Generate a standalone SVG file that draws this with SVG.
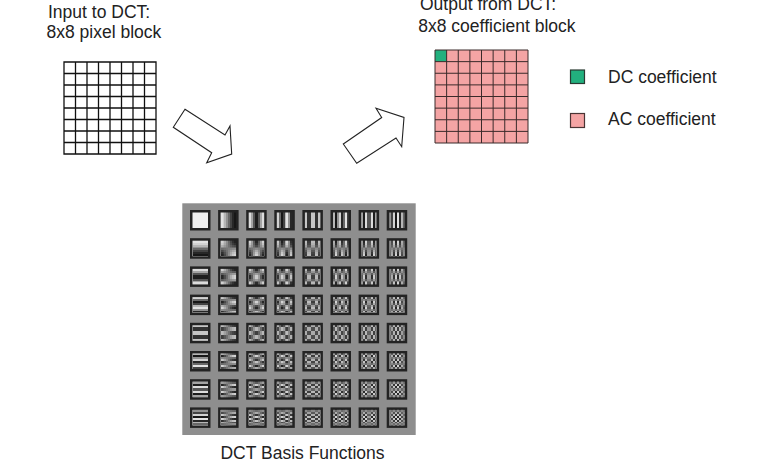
<svg xmlns="http://www.w3.org/2000/svg" width="772" height="474" viewBox="0 0 772 474">
<style>
text{font-family:"Liberation Sans",Arial,sans-serif;font-size:17.5px;fill:#222}
.arrow{fill:#fff;stroke:#222;stroke-width:1.1;stroke-linejoin:miter}
.grid{fill:none;stroke:#111;stroke-width:1.3}
.cgrid{fill:none;stroke:#3a2a2a;stroke-width:1}
.o{fill:#1c1c1c}
.b{mix-blend-mode:exclusion}
</style>
<defs>
<filter id="soft" x="-5%" y="-5%" width="110%" height="110%" color-interpolation-filters="sRGB"><feGaussianBlur stdDeviation="0.7"/><feComponentTransfer><feFuncR type="linear" slope=".9" intercept=".04"/><feFuncG type="linear" slope=".9" intercept=".04"/><feFuncB type="linear" slope=".9" intercept=".04"/></feComponentTransfer></filter>
<linearGradient id="h1"><stop offset="0" stop-color="#f0f0f0"/><stop offset=".125" stop-color="#f0f0f0"/><stop offset=".125" stop-color="#dfdfdf"/><stop offset=".25" stop-color="#dfdfdf"/><stop offset=".25" stop-color="#bfbfbf"/><stop offset=".375" stop-color="#bfbfbf"/><stop offset=".375" stop-color="#969696"/><stop offset=".5" stop-color="#969696"/><stop offset=".5" stop-color="#696969"/><stop offset=".625" stop-color="#696969"/><stop offset=".625" stop-color="#404040"/><stop offset=".75" stop-color="#404040"/><stop offset=".75" stop-color="#202020"/><stop offset=".875" stop-color="#202020"/><stop offset=".875" stop-color="#0f0f0f"/><stop offset="1" stop-color="#0f0f0f"/></linearGradient>
<linearGradient id="h2"><stop offset="0" stop-color="#eaeaea"/><stop offset=".125" stop-color="#eaeaea"/><stop offset=".125" stop-color="#ababab"/><stop offset=".25" stop-color="#ababab"/><stop offset=".25" stop-color="#545454"/><stop offset=".375" stop-color="#545454"/><stop offset=".375" stop-color="#151515"/><stop offset=".625" stop-color="#151515"/><stop offset=".625" stop-color="#545454"/><stop offset=".75" stop-color="#545454"/><stop offset=".75" stop-color="#ababab"/><stop offset=".875" stop-color="#ababab"/><stop offset=".875" stop-color="#eaeaea"/><stop offset="1" stop-color="#eaeaea"/></linearGradient>
<linearGradient id="h3"><stop offset="0" stop-color="#dfdfdf"/><stop offset=".125" stop-color="#dfdfdf"/><stop offset=".125" stop-color="#696969"/><stop offset=".25" stop-color="#696969"/><stop offset=".25" stop-color="#0f0f0f"/><stop offset=".375" stop-color="#0f0f0f"/><stop offset=".375" stop-color="#404040"/><stop offset=".5" stop-color="#404040"/><stop offset=".5" stop-color="#bfbfbf"/><stop offset=".625" stop-color="#bfbfbf"/><stop offset=".625" stop-color="#f0f0f0"/><stop offset=".75" stop-color="#f0f0f0"/><stop offset=".75" stop-color="#969696"/><stop offset=".875" stop-color="#969696"/><stop offset=".875" stop-color="#202020"/><stop offset="1" stop-color="#202020"/></linearGradient>
<linearGradient id="h4"><stop offset="0" stop-color="#d1d1d1"/><stop offset=".125" stop-color="#d1d1d1"/><stop offset=".125" stop-color="#2e2e2e"/><stop offset=".375" stop-color="#2e2e2e"/><stop offset=".375" stop-color="#d1d1d1"/><stop offset=".625" stop-color="#d1d1d1"/><stop offset=".625" stop-color="#2e2e2e"/><stop offset=".875" stop-color="#2e2e2e"/><stop offset=".875" stop-color="#d1d1d1"/><stop offset="1" stop-color="#d1d1d1"/></linearGradient>
<linearGradient id="h5"><stop offset="0" stop-color="#bfbfbf"/><stop offset=".125" stop-color="#bfbfbf"/><stop offset=".125" stop-color="#0f0f0f"/><stop offset=".25" stop-color="#0f0f0f"/><stop offset=".25" stop-color="#969696"/><stop offset=".375" stop-color="#969696"/><stop offset=".375" stop-color="#dfdfdf"/><stop offset=".5" stop-color="#dfdfdf"/><stop offset=".5" stop-color="#202020"/><stop offset=".625" stop-color="#202020"/><stop offset=".625" stop-color="#696969"/><stop offset=".75" stop-color="#696969"/><stop offset=".75" stop-color="#f0f0f0"/><stop offset=".875" stop-color="#f0f0f0"/><stop offset=".875" stop-color="#404040"/><stop offset="1" stop-color="#404040"/></linearGradient>
<linearGradient id="h6"><stop offset="0" stop-color="#ababab"/><stop offset=".125" stop-color="#ababab"/><stop offset=".125" stop-color="#151515"/><stop offset=".25" stop-color="#151515"/><stop offset=".25" stop-color="#eaeaea"/><stop offset=".375" stop-color="#eaeaea"/><stop offset=".375" stop-color="#545454"/><stop offset=".625" stop-color="#545454"/><stop offset=".625" stop-color="#eaeaea"/><stop offset=".75" stop-color="#eaeaea"/><stop offset=".75" stop-color="#151515"/><stop offset=".875" stop-color="#151515"/><stop offset=".875" stop-color="#ababab"/><stop offset="1" stop-color="#ababab"/></linearGradient>
<linearGradient id="h7"><stop offset="0" stop-color="#969696"/><stop offset=".125" stop-color="#969696"/><stop offset=".125" stop-color="#404040"/><stop offset=".25" stop-color="#404040"/><stop offset=".25" stop-color="#dfdfdf"/><stop offset=".375" stop-color="#dfdfdf"/><stop offset=".375" stop-color="#0f0f0f"/><stop offset=".5" stop-color="#0f0f0f"/><stop offset=".5" stop-color="#f0f0f0"/><stop offset=".625" stop-color="#f0f0f0"/><stop offset=".625" stop-color="#202020"/><stop offset=".75" stop-color="#202020"/><stop offset=".75" stop-color="#bfbfbf"/><stop offset=".875" stop-color="#bfbfbf"/><stop offset=".875" stop-color="#696969"/><stop offset="1" stop-color="#696969"/></linearGradient>
<linearGradient id="v1" x2="0" y2="1"><stop offset="0" stop-color="#0f0f0f"/><stop offset=".125" stop-color="#0f0f0f"/><stop offset=".125" stop-color="#202020"/><stop offset=".25" stop-color="#202020"/><stop offset=".25" stop-color="#404040"/><stop offset=".375" stop-color="#404040"/><stop offset=".375" stop-color="#696969"/><stop offset=".5" stop-color="#696969"/><stop offset=".5" stop-color="#969696"/><stop offset=".625" stop-color="#969696"/><stop offset=".625" stop-color="#bfbfbf"/><stop offset=".75" stop-color="#bfbfbf"/><stop offset=".75" stop-color="#dfdfdf"/><stop offset=".875" stop-color="#dfdfdf"/><stop offset=".875" stop-color="#f0f0f0"/><stop offset="1" stop-color="#f0f0f0"/></linearGradient>
<linearGradient id="v2" x2="0" y2="1"><stop offset="0" stop-color="#151515"/><stop offset=".125" stop-color="#151515"/><stop offset=".125" stop-color="#545454"/><stop offset=".25" stop-color="#545454"/><stop offset=".25" stop-color="#ababab"/><stop offset=".375" stop-color="#ababab"/><stop offset=".375" stop-color="#eaeaea"/><stop offset=".625" stop-color="#eaeaea"/><stop offset=".625" stop-color="#ababab"/><stop offset=".75" stop-color="#ababab"/><stop offset=".75" stop-color="#545454"/><stop offset=".875" stop-color="#545454"/><stop offset=".875" stop-color="#151515"/><stop offset="1" stop-color="#151515"/></linearGradient>
<linearGradient id="v3" x2="0" y2="1"><stop offset="0" stop-color="#202020"/><stop offset=".125" stop-color="#202020"/><stop offset=".125" stop-color="#969696"/><stop offset=".25" stop-color="#969696"/><stop offset=".25" stop-color="#f0f0f0"/><stop offset=".375" stop-color="#f0f0f0"/><stop offset=".375" stop-color="#bfbfbf"/><stop offset=".5" stop-color="#bfbfbf"/><stop offset=".5" stop-color="#404040"/><stop offset=".625" stop-color="#404040"/><stop offset=".625" stop-color="#0f0f0f"/><stop offset=".75" stop-color="#0f0f0f"/><stop offset=".75" stop-color="#696969"/><stop offset=".875" stop-color="#696969"/><stop offset=".875" stop-color="#dfdfdf"/><stop offset="1" stop-color="#dfdfdf"/></linearGradient>
<linearGradient id="v4" x2="0" y2="1"><stop offset="0" stop-color="#2e2e2e"/><stop offset=".125" stop-color="#2e2e2e"/><stop offset=".125" stop-color="#d1d1d1"/><stop offset=".375" stop-color="#d1d1d1"/><stop offset=".375" stop-color="#2e2e2e"/><stop offset=".625" stop-color="#2e2e2e"/><stop offset=".625" stop-color="#d1d1d1"/><stop offset=".875" stop-color="#d1d1d1"/><stop offset=".875" stop-color="#2e2e2e"/><stop offset="1" stop-color="#2e2e2e"/></linearGradient>
<linearGradient id="v5" x2="0" y2="1"><stop offset="0" stop-color="#404040"/><stop offset=".125" stop-color="#404040"/><stop offset=".125" stop-color="#f0f0f0"/><stop offset=".25" stop-color="#f0f0f0"/><stop offset=".25" stop-color="#696969"/><stop offset=".375" stop-color="#696969"/><stop offset=".375" stop-color="#202020"/><stop offset=".5" stop-color="#202020"/><stop offset=".5" stop-color="#dfdfdf"/><stop offset=".625" stop-color="#dfdfdf"/><stop offset=".625" stop-color="#969696"/><stop offset=".75" stop-color="#969696"/><stop offset=".75" stop-color="#0f0f0f"/><stop offset=".875" stop-color="#0f0f0f"/><stop offset=".875" stop-color="#bfbfbf"/><stop offset="1" stop-color="#bfbfbf"/></linearGradient>
<linearGradient id="v6" x2="0" y2="1"><stop offset="0" stop-color="#545454"/><stop offset=".125" stop-color="#545454"/><stop offset=".125" stop-color="#eaeaea"/><stop offset=".25" stop-color="#eaeaea"/><stop offset=".25" stop-color="#151515"/><stop offset=".375" stop-color="#151515"/><stop offset=".375" stop-color="#ababab"/><stop offset=".625" stop-color="#ababab"/><stop offset=".625" stop-color="#151515"/><stop offset=".75" stop-color="#151515"/><stop offset=".75" stop-color="#eaeaea"/><stop offset=".875" stop-color="#eaeaea"/><stop offset=".875" stop-color="#545454"/><stop offset="1" stop-color="#545454"/></linearGradient>
<linearGradient id="v7" x2="0" y2="1"><stop offset="0" stop-color="#696969"/><stop offset=".125" stop-color="#696969"/><stop offset=".125" stop-color="#bfbfbf"/><stop offset=".25" stop-color="#bfbfbf"/><stop offset=".25" stop-color="#202020"/><stop offset=".375" stop-color="#202020"/><stop offset=".375" stop-color="#f0f0f0"/><stop offset=".5" stop-color="#f0f0f0"/><stop offset=".5" stop-color="#0f0f0f"/><stop offset=".625" stop-color="#0f0f0f"/><stop offset=".625" stop-color="#dfdfdf"/><stop offset=".75" stop-color="#dfdfdf"/><stop offset=".75" stop-color="#404040"/><stop offset=".875" stop-color="#404040"/><stop offset=".875" stop-color="#969696"/><stop offset="1" stop-color="#969696"/></linearGradient>
<rect id="o" class="o" width="20.5" height="20.5"/>
<rect id="p" x="2.5" y="2.5" width="15.5" height="15.5"/>
</defs>
<rect width="772" height="474" fill="#fff"/>

<g id="input-block">
<text x="48" y="18.3">Input to DCT:</text>
<text x="46.5" y="38.3">8x8 pixel block</text>
<rect x="64" y="62" width="92" height="92" fill="#fff"/>
<path class="grid" d="M64 62H156V154H64Z M75.5 62V154 M87 62V154 M98.5 62V154 M110 62V154 M121.5 62V154 M133 62V154 M144.5 62V154 M64 73.5H156 M64 85H156 M64 96.5H156 M64 108H156 M64 119.5H156 M64 131H156 M64 142.5H156"/>
</g>

<g id="output-block">
<text x="420" y="10">Output from DCT:</text>
<text x="418.3" y="31.7">8x8 coefficient block</text>
<rect x="435" y="50" width="93" height="93" fill="#f4a4a4"/>
<rect x="435" y="50" width="11.625" height="11.625" fill="#22b07e"/>
<path class="cgrid" d="M435 50H528V143H435Z M446.625 50V143 M458.25 50V143 M469.875 50V143 M481.5 50V143 M493.125 50V143 M504.75 50V143 M516.375 50V143 M435 61.625H528 M435 73.25H528 M435 84.875H528 M435 96.5H528 M435 108.125H528 M435 119.75H528 M435 131.375H528"/>
</g>

<g id="legend">
<rect x="570.5" y="70" width="14" height="13.5" fill="#22b07e" stroke="#2a3a32" stroke-width="1.2"/>
<text x="608" y="82.7">DC coefficient</text>
<rect x="570.5" y="113.5" width="14" height="14" fill="#f4a4a4" stroke="#4a3434" stroke-width="1.2"/>
<text x="608" y="125">AC coefficient</text>
</g>

<g id="connectors">
<polygon class="arrow" points="185,109.3 225,135 230,126 231.7,154 206.7,162.7 211.7,152.7 173.3,127.3"/>
<polygon class="arrow" points="343.3,144 381.7,117.5 376,108.3 404,117.5 401.7,146.7 396,138 356.7,163.3"/>
</g>

<g id="dct-basis">
<rect x="182.3" y="203.3" width="233.4" height="231.7" fill="#8e8e8e"/>
<g filter="url(#soft)">
<g transform="translate(190,210)"><use href="#o"/><use href="#p" fill="#fff"/><use href="#p" class="b" fill="#000"/></g>
<g transform="translate(218.1,210)"><use href="#o"/><use href="#p" fill="url(#h1)"/><use href="#p" class="b" fill="#000"/></g>
<g transform="translate(246.2,210)"><use href="#o"/><use href="#p" fill="url(#h2)"/><use href="#p" class="b" fill="#000"/></g>
<g transform="translate(274.3,210)"><use href="#o"/><use href="#p" fill="url(#h3)"/><use href="#p" class="b" fill="#000"/></g>
<g transform="translate(302.4,210)"><use href="#o"/><use href="#p" fill="url(#h4)"/><use href="#p" class="b" fill="#000"/></g>
<g transform="translate(330.5,210)"><use href="#o"/><use href="#p" fill="url(#h5)"/><use href="#p" class="b" fill="#000"/></g>
<g transform="translate(358.6,210)"><use href="#o"/><use href="#p" fill="url(#h6)"/><use href="#p" class="b" fill="#000"/></g>
<g transform="translate(386.7,210)"><use href="#o"/><use href="#p" fill="url(#h7)"/><use href="#p" class="b" fill="#000"/></g>

<g transform="translate(190,238.2)"><use href="#o"/><use href="#p" fill="#fff"/><use href="#p" class="b" fill="url(#v1)"/></g>
<g transform="translate(218.1,238.2)"><use href="#o"/><use href="#p" fill="url(#h1)"/><use href="#p" class="b" fill="url(#v1)"/></g>
<g transform="translate(246.2,238.2)"><use href="#o"/><use href="#p" fill="url(#h2)"/><use href="#p" class="b" fill="url(#v1)"/></g>
<g transform="translate(274.3,238.2)"><use href="#o"/><use href="#p" fill="url(#h3)"/><use href="#p" class="b" fill="url(#v1)"/></g>
<g transform="translate(302.4,238.2)"><use href="#o"/><use href="#p" fill="url(#h4)"/><use href="#p" class="b" fill="url(#v1)"/></g>
<g transform="translate(330.5,238.2)"><use href="#o"/><use href="#p" fill="url(#h5)"/><use href="#p" class="b" fill="url(#v1)"/></g>
<g transform="translate(358.6,238.2)"><use href="#o"/><use href="#p" fill="url(#h6)"/><use href="#p" class="b" fill="url(#v1)"/></g>
<g transform="translate(386.7,238.2)"><use href="#o"/><use href="#p" fill="url(#h7)"/><use href="#p" class="b" fill="url(#v1)"/></g>

<g transform="translate(190,266.4)"><use href="#o"/><use href="#p" fill="#fff"/><use href="#p" class="b" fill="url(#v2)"/></g>
<g transform="translate(218.1,266.4)"><use href="#o"/><use href="#p" fill="url(#h1)"/><use href="#p" class="b" fill="url(#v2)"/></g>
<g transform="translate(246.2,266.4)"><use href="#o"/><use href="#p" fill="url(#h2)"/><use href="#p" class="b" fill="url(#v2)"/></g>
<g transform="translate(274.3,266.4)"><use href="#o"/><use href="#p" fill="url(#h3)"/><use href="#p" class="b" fill="url(#v2)"/></g>
<g transform="translate(302.4,266.4)"><use href="#o"/><use href="#p" fill="url(#h4)"/><use href="#p" class="b" fill="url(#v2)"/></g>
<g transform="translate(330.5,266.4)"><use href="#o"/><use href="#p" fill="url(#h5)"/><use href="#p" class="b" fill="url(#v2)"/></g>
<g transform="translate(358.6,266.4)"><use href="#o"/><use href="#p" fill="url(#h6)"/><use href="#p" class="b" fill="url(#v2)"/></g>
<g transform="translate(386.7,266.4)"><use href="#o"/><use href="#p" fill="url(#h7)"/><use href="#p" class="b" fill="url(#v2)"/></g>

<g transform="translate(190,294.6)"><use href="#o"/><use href="#p" fill="#fff"/><use href="#p" class="b" fill="url(#v3)"/></g>
<g transform="translate(218.1,294.6)"><use href="#o"/><use href="#p" fill="url(#h1)"/><use href="#p" class="b" fill="url(#v3)"/></g>
<g transform="translate(246.2,294.6)"><use href="#o"/><use href="#p" fill="url(#h2)"/><use href="#p" class="b" fill="url(#v3)"/></g>
<g transform="translate(274.3,294.6)"><use href="#o"/><use href="#p" fill="url(#h3)"/><use href="#p" class="b" fill="url(#v3)"/></g>
<g transform="translate(302.4,294.6)"><use href="#o"/><use href="#p" fill="url(#h4)"/><use href="#p" class="b" fill="url(#v3)"/></g>
<g transform="translate(330.5,294.6)"><use href="#o"/><use href="#p" fill="url(#h5)"/><use href="#p" class="b" fill="url(#v3)"/></g>
<g transform="translate(358.6,294.6)"><use href="#o"/><use href="#p" fill="url(#h6)"/><use href="#p" class="b" fill="url(#v3)"/></g>
<g transform="translate(386.7,294.6)"><use href="#o"/><use href="#p" fill="url(#h7)"/><use href="#p" class="b" fill="url(#v3)"/></g>

<g transform="translate(190,322.8)"><use href="#o"/><use href="#p" fill="#fff"/><use href="#p" class="b" fill="url(#v4)"/></g>
<g transform="translate(218.1,322.8)"><use href="#o"/><use href="#p" fill="url(#h1)"/><use href="#p" class="b" fill="url(#v4)"/></g>
<g transform="translate(246.2,322.8)"><use href="#o"/><use href="#p" fill="url(#h2)"/><use href="#p" class="b" fill="url(#v4)"/></g>
<g transform="translate(274.3,322.8)"><use href="#o"/><use href="#p" fill="url(#h3)"/><use href="#p" class="b" fill="url(#v4)"/></g>
<g transform="translate(302.4,322.8)"><use href="#o"/><use href="#p" fill="url(#h4)"/><use href="#p" class="b" fill="url(#v4)"/></g>
<g transform="translate(330.5,322.8)"><use href="#o"/><use href="#p" fill="url(#h5)"/><use href="#p" class="b" fill="url(#v4)"/></g>
<g transform="translate(358.6,322.8)"><use href="#o"/><use href="#p" fill="url(#h6)"/><use href="#p" class="b" fill="url(#v4)"/></g>
<g transform="translate(386.7,322.8)"><use href="#o"/><use href="#p" fill="url(#h7)"/><use href="#p" class="b" fill="url(#v4)"/></g>

<g transform="translate(190,351)"><use href="#o"/><use href="#p" fill="#fff"/><use href="#p" class="b" fill="url(#v5)"/></g>
<g transform="translate(218.1,351)"><use href="#o"/><use href="#p" fill="url(#h1)"/><use href="#p" class="b" fill="url(#v5)"/></g>
<g transform="translate(246.2,351)"><use href="#o"/><use href="#p" fill="url(#h2)"/><use href="#p" class="b" fill="url(#v5)"/></g>
<g transform="translate(274.3,351)"><use href="#o"/><use href="#p" fill="url(#h3)"/><use href="#p" class="b" fill="url(#v5)"/></g>
<g transform="translate(302.4,351)"><use href="#o"/><use href="#p" fill="url(#h4)"/><use href="#p" class="b" fill="url(#v5)"/></g>
<g transform="translate(330.5,351)"><use href="#o"/><use href="#p" fill="url(#h5)"/><use href="#p" class="b" fill="url(#v5)"/></g>
<g transform="translate(358.6,351)"><use href="#o"/><use href="#p" fill="url(#h6)"/><use href="#p" class="b" fill="url(#v5)"/></g>
<g transform="translate(386.7,351)"><use href="#o"/><use href="#p" fill="url(#h7)"/><use href="#p" class="b" fill="url(#v5)"/></g>

<g transform="translate(190,379.2)"><use href="#o"/><use href="#p" fill="#fff"/><use href="#p" class="b" fill="url(#v6)"/></g>
<g transform="translate(218.1,379.2)"><use href="#o"/><use href="#p" fill="url(#h1)"/><use href="#p" class="b" fill="url(#v6)"/></g>
<g transform="translate(246.2,379.2)"><use href="#o"/><use href="#p" fill="url(#h2)"/><use href="#p" class="b" fill="url(#v6)"/></g>
<g transform="translate(274.3,379.2)"><use href="#o"/><use href="#p" fill="url(#h3)"/><use href="#p" class="b" fill="url(#v6)"/></g>
<g transform="translate(302.4,379.2)"><use href="#o"/><use href="#p" fill="url(#h4)"/><use href="#p" class="b" fill="url(#v6)"/></g>
<g transform="translate(330.5,379.2)"><use href="#o"/><use href="#p" fill="url(#h5)"/><use href="#p" class="b" fill="url(#v6)"/></g>
<g transform="translate(358.6,379.2)"><use href="#o"/><use href="#p" fill="url(#h6)"/><use href="#p" class="b" fill="url(#v6)"/></g>
<g transform="translate(386.7,379.2)"><use href="#o"/><use href="#p" fill="url(#h7)"/><use href="#p" class="b" fill="url(#v6)"/></g>

<g transform="translate(190,407.4)"><use href="#o"/><use href="#p" fill="#fff"/><use href="#p" class="b" fill="url(#v7)"/></g>
<g transform="translate(218.1,407.4)"><use href="#o"/><use href="#p" fill="url(#h1)"/><use href="#p" class="b" fill="url(#v7)"/></g>
<g transform="translate(246.2,407.4)"><use href="#o"/><use href="#p" fill="url(#h2)"/><use href="#p" class="b" fill="url(#v7)"/></g>
<g transform="translate(274.3,407.4)"><use href="#o"/><use href="#p" fill="url(#h3)"/><use href="#p" class="b" fill="url(#v7)"/></g>
<g transform="translate(302.4,407.4)"><use href="#o"/><use href="#p" fill="url(#h4)"/><use href="#p" class="b" fill="url(#v7)"/></g>
<g transform="translate(330.5,407.4)"><use href="#o"/><use href="#p" fill="url(#h5)"/><use href="#p" class="b" fill="url(#v7)"/></g>
<g transform="translate(358.6,407.4)"><use href="#o"/><use href="#p" fill="url(#h6)"/><use href="#p" class="b" fill="url(#v7)"/></g>
<g transform="translate(386.7,407.4)"><use href="#o"/><use href="#p" fill="url(#h7)"/><use href="#p" class="b" fill="url(#v7)"/></g>
</g>
<text x="302.5" y="459.3" text-anchor="middle">DCT Basis Functions</text>
</g>
</svg>
